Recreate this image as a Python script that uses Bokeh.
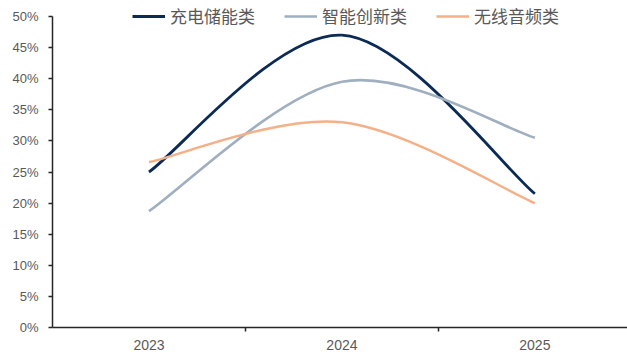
from bokeh.plotting import figure
from bokeh.models import Range1d, FixedTicker, NumeralTickFormatter, Legend, LegendItem
from bokeh.embed import file_html
from bokeh.resources import INLINE

years = ["2023", "2024", "2025"]
charging = [0.250, 0.470, 0.215]   # 充电储能类
smart = [0.187, 0.395, 0.305]      # 智能创新类
audio = [0.266, 0.330, 0.200]      # 无线音频类
series_names = ["充电储能类", "智能创新类", "无线音频类"]
colors = ["#0b2a55", "#a0afc0", "#f5b088"]

xs = [i + 0.5 for i in range(len(years))]

# frame spans 0..327 px vertically; 0..50% occupies 16..327 px
y_top = 0.5 * 327.0 / 311.0

p = figure(width=627, height=356, output_backend="svg", toolbar_location=None,
           x_range=Range1d(0, 2.98), y_range=Range1d(0, y_top),
           min_border_left=52, min_border_right=0, min_border_top=0, min_border_bottom=29)
p.outline_line_color = None
p.xgrid.visible = False
p.ygrid.visible = False
p.background_fill_color = "white"
p.border_fill_color = "white"


def smooth_segments(x, y, t=1.0 / 6.0):
    n = len(x)
    seg = dict(x0=[], y0=[], x1=[], y1=[], cx0=[], cy0=[], cx1=[], cy1=[])
    for i in range(n - 1):
        pm = max(i - 1, 0)
        pp = min(i + 2, n - 1)
        seg["x0"].append(x[i]); seg["y0"].append(y[i])
        seg["x1"].append(x[i + 1]); seg["y1"].append(y[i + 1])
        seg["cx0"].append(x[i] + (x[i + 1] - x[pm]) * t)
        seg["cy0"].append(y[i] + (y[i + 1] - y[pm]) * t)
        seg["cx1"].append(x[i + 1] - (x[pp] - x[i]) * t)
        seg["cy1"].append(y[i + 1] - (y[pp] - y[i]) * t)
    return seg


items = []
for name, vals, col, w in zip(series_names, [charging, smart, audio], colors, [2.8, 2.6, 2.4]):
    s = smooth_segments(xs, vals)
    r = p.bezier(x0=s["x0"], y0=s["y0"], x1=s["x1"], y1=s["y1"],
                 cx0=s["cx0"], cy0=s["cy0"], cx1=s["cx1"], cy1=s["cy1"],
                 line_color=col, line_width=w)
    items.append(LegendItem(label=name, renderers=[r]))

# axes
xa = p.xaxis[0]
xa.ticker = FixedTicker(ticks=xs, minor_ticks=[1, 2])
xa.major_label_overrides = {x: y for x, y in zip(xs, years)}
xa.major_tick_out = 0
xa.major_tick_in = 0
xa.minor_tick_out = 4
xa.minor_tick_in = 0
xa.minor_tick_line_color = "#262626"
xa.minor_tick_line_width = 1.5
xa.axis_line_color = "#262626"
xa.axis_line_width = 1.5
xa.major_label_text_font = "Liberation Sans"
xa.major_label_text_font_size = "14px"
xa.major_label_text_color = "#595959"
xa.major_label_standoff = 8

ya = p.yaxis[0]
ya.ticker = FixedTicker(ticks=[i * 0.05 for i in range(11)])
ya.bounds = (0, 0.5)
ya.formatter = NumeralTickFormatter(format="0%")
ya.major_tick_out = 4
ya.major_tick_in = 0
ya.minor_tick_line_color = None
ya.major_tick_line_color = "#262626"
ya.major_tick_line_width = 1.5
ya.axis_line_color = "#262626"
ya.axis_line_width = 1.5
ya.major_label_text_font = "Liberation Sans"
ya.major_label_text_font_size = "13px"
ya.major_label_text_color = "#595959"
ya.major_label_standoff = 10

legend = Legend(items=items, orientation="horizontal", location=(80, 299),
                label_text_font="Noto Sans CJK SC", label_text_font_size="17px",
                label_text_color="#595959", glyph_width=33, glyph_height=20,
                label_height=20, label_standoff=5, spacing=29, padding=0, margin=0,
                border_line_color=None, background_fill_alpha=0)
p.add_layout(legend, "center")

open("out.html", "w").write(file_html(p, INLINE))
